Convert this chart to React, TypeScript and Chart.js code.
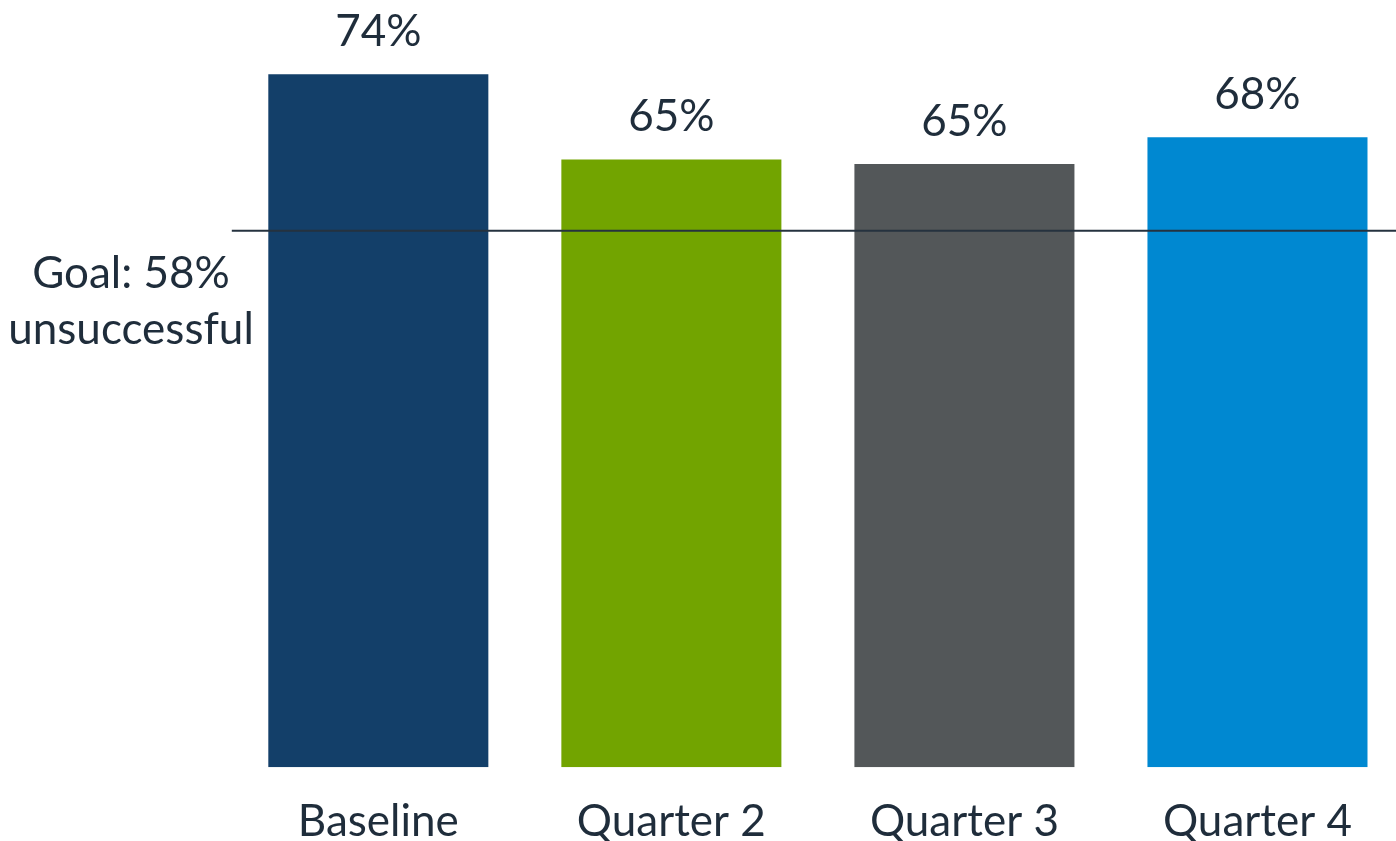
import React, { useEffect, useRef } from "react";
import { Chart, registerables } from "chart.js";

Chart.register(...registerables);

const categories = ["Baseline", "Quarter 2", "Quarter 3", "Quarter 4"];
const values = [74.9, 65.7, 65.2, 68.1];
const valueLabels = ["74%", "65%", "65%", "68%"];
const barColors = ["#133F69", "#72A400", "#535759", "#0088D1"];
const goalValue = 58;
const goalLabelLines = ["Goal: 58%", "unsuccessful"];

const TEXT_COLOR = "#1F2D3B";
const FONT = "Lato, 'Open Sans', sans-serif";
const FONT_SIZE = 44;

const overlayPlugin = {
  id: "overlay",
  afterDatasetsDraw(chart: any) {
    const ctx = chart.ctx;
    const xScale = chart.scales.x;
    const yScale = chart.scales.y;
    const area = chart.chartArea;
    ctx.save();
    // goal line
    const gy = yScale.getPixelForValue(goalValue);
    ctx.strokeStyle = "#25323F";
    ctx.lineWidth = 2;
    ctx.beginPath();
    ctx.moveTo(area.left, gy);
    ctx.lineTo(chart.width, gy);
    ctx.stroke();

    ctx.fillStyle = TEXT_COLOR;
    ctx.font = `${FONT_SIZE}px ${FONT}`;
    ctx.textAlign = "center";
    ctx.textBaseline = "alphabetic";
    // value labels
    const meta = chart.getDatasetMeta(0);
    meta.data.forEach((bar: any, i: number) => {
      ctx.fillText(valueLabels[i], bar.x, bar.y - 28);
    });
    // category labels
    categories.forEach((c, i) => {
      ctx.fillText(c, xScale.getPixelForValue(i), 836);
    });
    // goal label
    goalLabelLines.forEach((line, i) => {
      ctx.fillText(line, 131, gy + 57 + i * 56);
    });
    ctx.restore();
  },
};

export default function App() {
  const canvasRef = useRef<HTMLCanvasElement | null>(null);

  useEffect(() => {
    if (!canvasRef.current) return;
    const chart = new Chart(canvasRef.current, {
      type: "bar",
      data: {
        labels: categories,
        datasets: [
          {
            data: values,
            backgroundColor: barColors,
            borderWidth: 0,
            barPercentage: 220 / 293,
            categoryPercentage: 1,
          },
        ],
      },
      options: {
        animation: false,
        responsive: false,
        devicePixelRatio: 1,
        layout: {
          padding: { left: 231.8, right: 0, top: 27.1, bottom: 73.7 },
        },
        plugins: {
          legend: { display: false },
          tooltip: { enabled: false },
        },
        scales: {
          x: { display: false, offset: true },
          y: { display: false, min: 0, max: 80 },
        },
      },
      plugins: [overlayPlugin],
    });
    return () => chart.destroy();
  }, []);

  return (
    <div
      style={{
        position: "absolute",
        left: 0,
        top: 0,
        width: 1396,
        height: 841,
        overflow: "hidden",
        background: "#ffffff",
      }}
    >
      <canvas
        ref={canvasRef}
        width={1404}
        height={841}
        style={{ display: "block", width: 1404, height: 841 }}
      />
    </div>
  );
}
